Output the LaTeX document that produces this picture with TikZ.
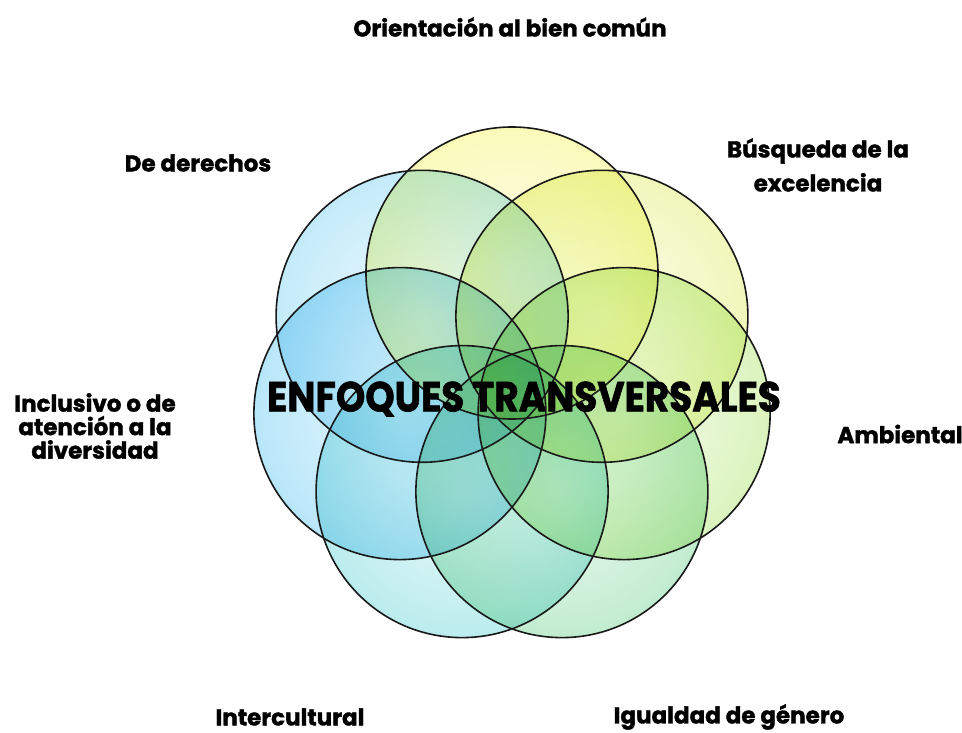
\documentclass[tikz,border=0pt]{standalone}
\usepackage{fontspec}
\setmainfont{Poppins}
\newfontfamily\heavyfont{Poppins}[BoldFeatures={FakeBold=1.5}]
\definecolor{cA}{RGB}{238,236,20}
\definecolor{cB}{RGB}{205,228,20}
\definecolor{cC}{RGB}{130,215,30}
\definecolor{cD}{RGB}{40,190,90}
\definecolor{cE}{RGB}{20,190,195}
\definecolor{cF}{RGB}{10,170,235}
\definecolor{cG}{RGB}{50,185,235}
\pgfdeclareradialshading{rimA}{\pgfpoint{0bp}{0bp}}{color(0bp)=(cA!8!white);color(24bp)=(cA!28!white);color(42bp)=(cA!70!white);color(50bp)=(cA)}
\pgfdeclareradialshading{rimB}{\pgfpoint{0bp}{0bp}}{color(0bp)=(cB!8!white);color(24bp)=(cB!28!white);color(42bp)=(cB!70!white);color(50bp)=(cB)}
\pgfdeclareradialshading{rimC}{\pgfpoint{0bp}{0bp}}{color(0bp)=(cC!8!white);color(24bp)=(cC!28!white);color(42bp)=(cC!70!white);color(50bp)=(cC)}
\pgfdeclareradialshading{rimD}{\pgfpoint{0bp}{0bp}}{color(0bp)=(cD!8!white);color(24bp)=(cD!28!white);color(42bp)=(cD!70!white);color(50bp)=(cD)}
\pgfdeclareradialshading{rimE}{\pgfpoint{0bp}{0bp}}{color(0bp)=(cE!8!white);color(24bp)=(cE!28!white);color(42bp)=(cE!70!white);color(50bp)=(cE)}
\pgfdeclareradialshading{rimF}{\pgfpoint{0bp}{0bp}}{color(0bp)=(cF!8!white);color(24bp)=(cF!28!white);color(42bp)=(cF!70!white);color(50bp)=(cF)}
\pgfdeclareradialshading{rimG}{\pgfpoint{0bp}{0bp}}{color(0bp)=(cG!8!white);color(24bp)=(cG!28!white);color(42bp)=(cG!70!white);color(50bp)=(cG)}
\tikzset{
  ring/.style={line width=1.6pt, draw=black!90},
  lbl/.style={font=\heavyfont\bfseries\fontsize{23}{23.5}\selectfont, align=center, text=black, inner sep=0pt},
  title/.style={font=\heavyfont\bfseries\fontsize{42}{42}\selectfont, text=black, xscale=0.89, inner sep=0pt}
}
\begin{document}
\begin{tikzpicture}[x=1pt,y=-1pt]
\useasboundingbox[fill=white] (0,0) rectangle (962,733);
\coordinate (O) at (512,388);
\begin{scope}[blend group=multiply]
\foreach \k/\s in {0/A,1/B,2/C,3/D,4/E,5/F,6/G}{
  \pgfmathsetmacro\a{90-\k*360/7}
  \coordinate (c\k) at ({512+115*cos(\a)},{388-115*sin(\a)});
  \shade[shading=rim\s] (c\k) circle[radius=146];
}
\end{scope}
\foreach \k in {0,...,6}{
  \draw[ring] (c\k) circle[radius=146];
}
\node[title] (t) at (524,399) {ENFOQUES TRANSVERSALES};
\node[lbl] (l1) at (510,27) {Orientación al bien común};
\node[lbl] (l2) at (198,163) {De derechos};
\node[lbl, font=\heavyfont\bfseries\fontsize{23}{34}\selectfont] (l3) at (818,165) {Búsqueda de la\\excelencia};
\node[lbl] (l4) at (95,426) {Inclusivo o de\\atención a la\\diversidad};
\node[lbl] (l5) at (900,434) {Ambiental};
\node[lbl] (l6) at (290,717) {Intercultural};
\node[lbl] (l7) at (729,717) {Igualdad de género};
\end{tikzpicture}
\end{document}
